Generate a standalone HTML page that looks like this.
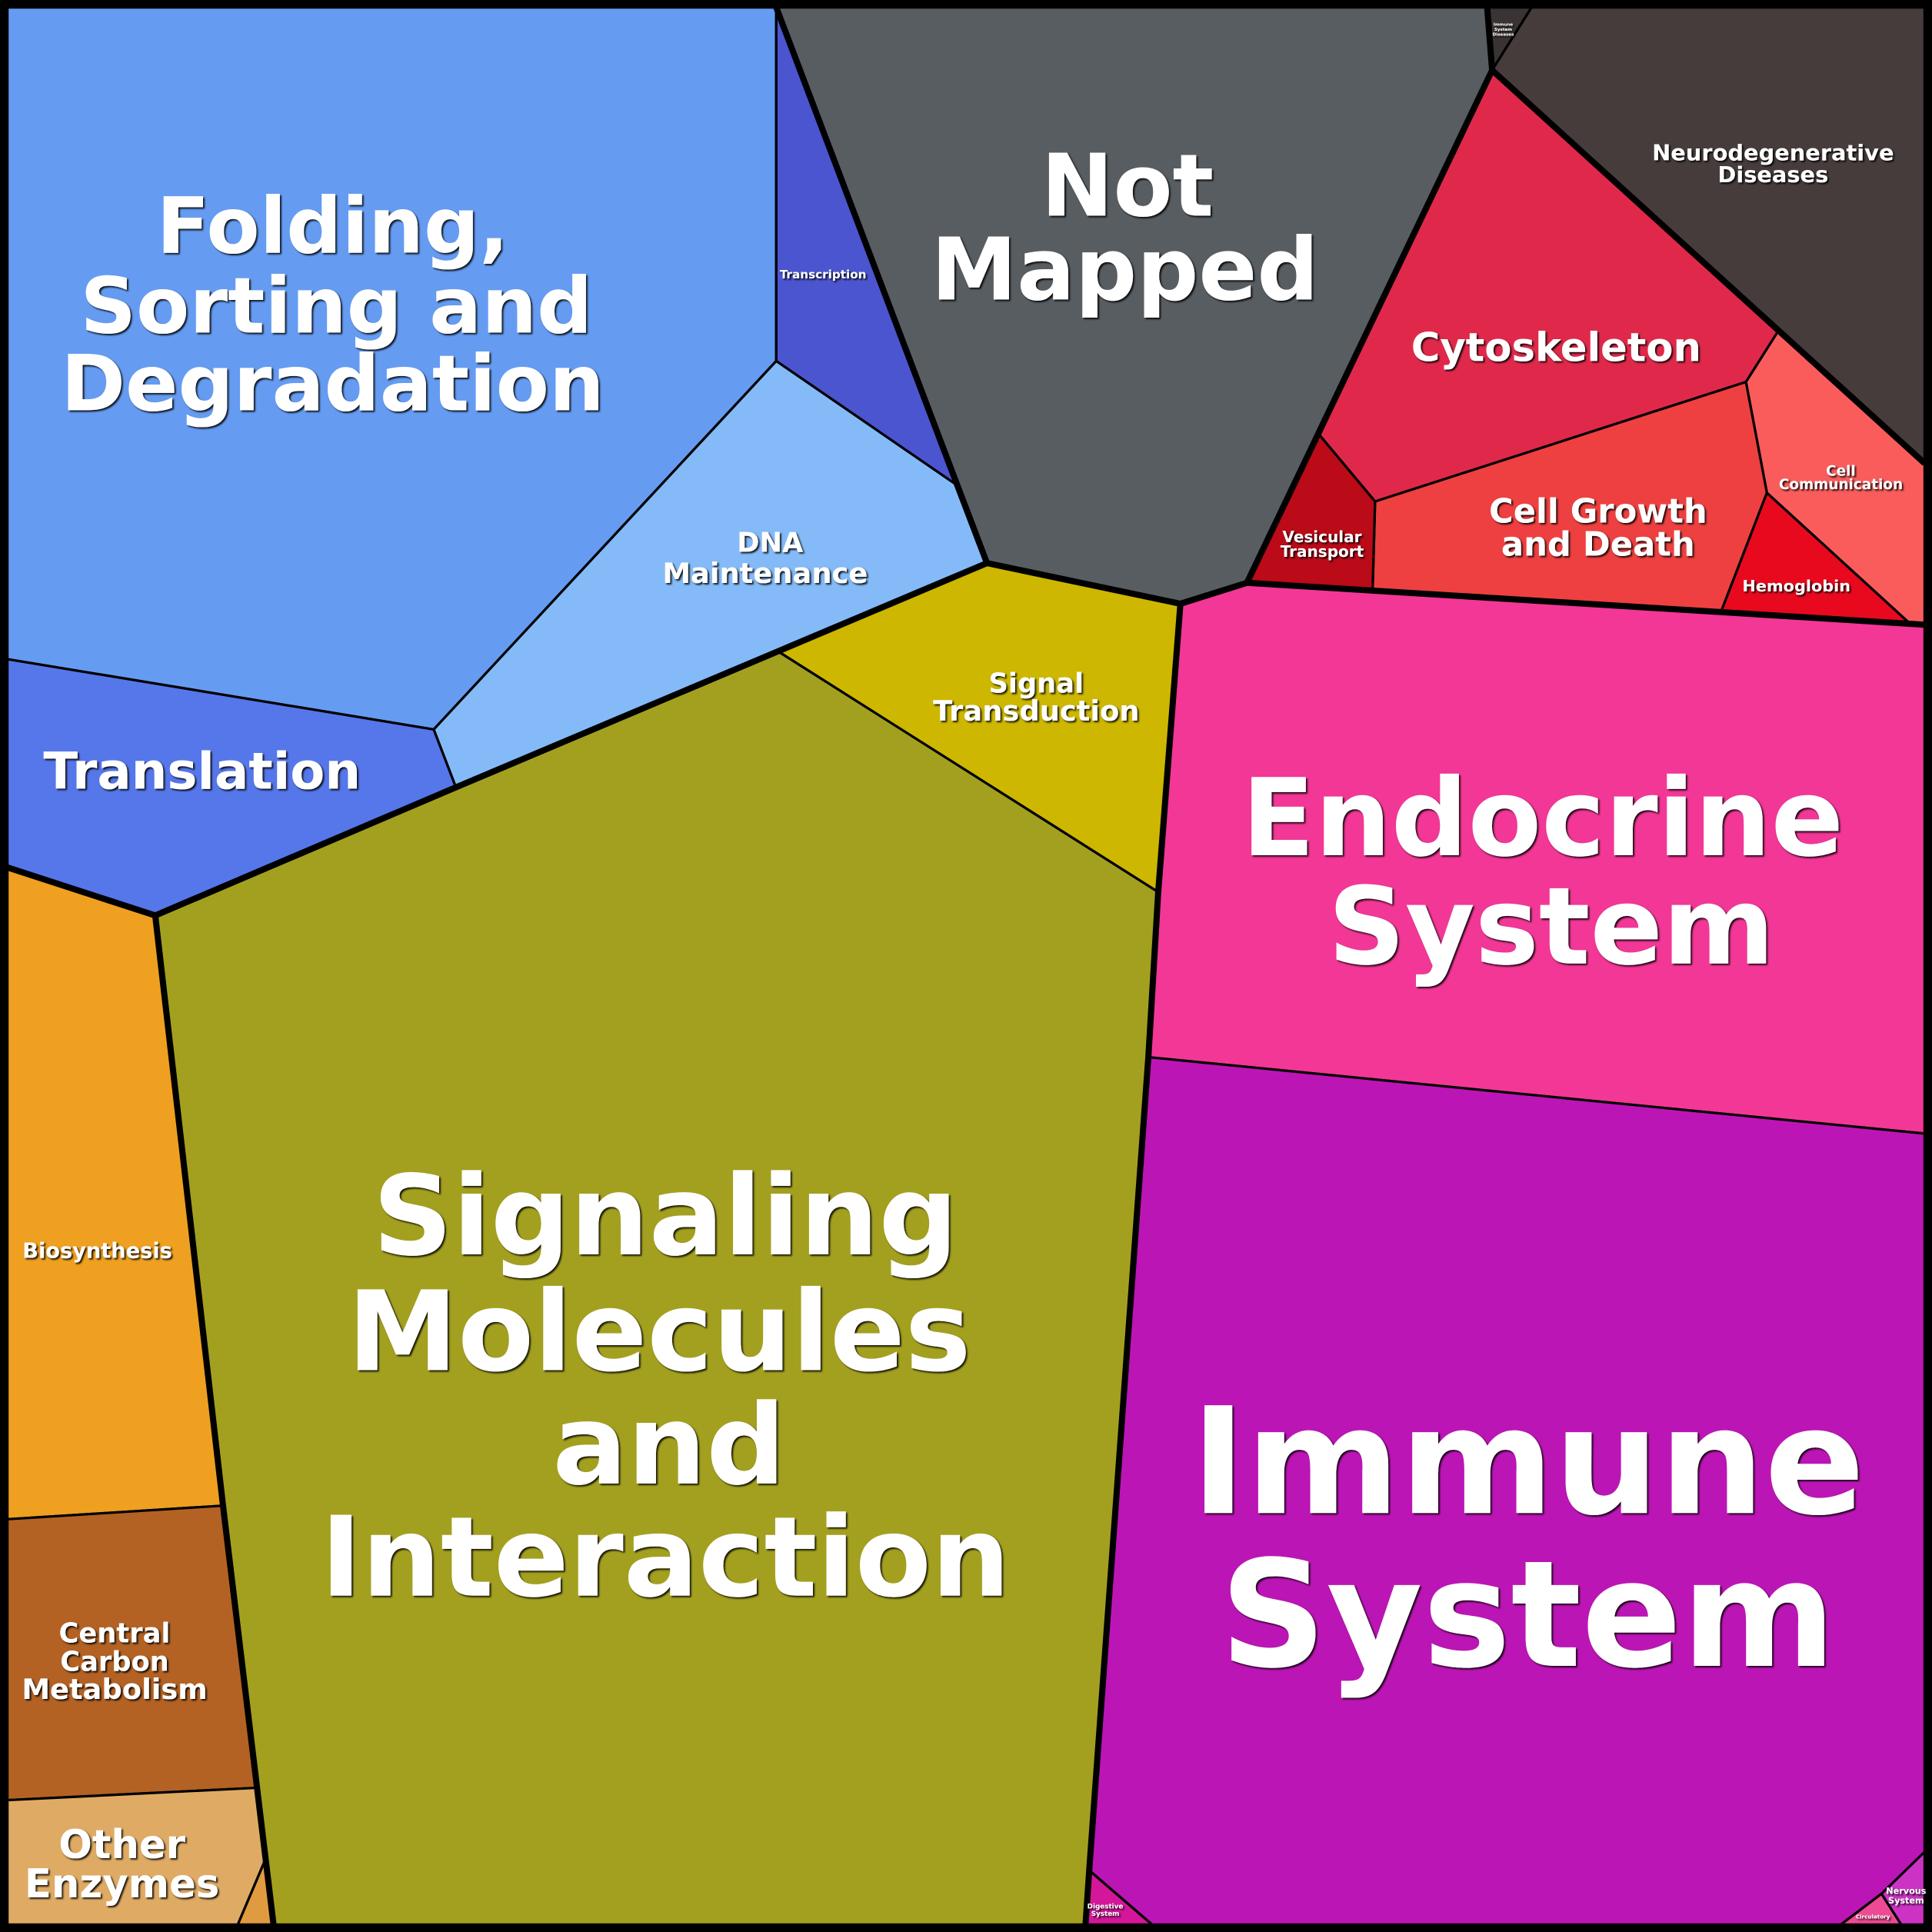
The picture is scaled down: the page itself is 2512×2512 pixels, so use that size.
<!DOCTYPE html>
<html><head><meta charset="utf-8"><style>
html,body{margin:0;padding:0;background:#000;}
svg{display:block;}
text{font-family:"DejaVu Sans","Liberation Sans",sans-serif;font-weight:bold;fill:#fff;text-anchor:middle;}
</style></head><body>
<svg width="2512" height="2512" viewBox="0 0 1568 1568" xmlns="http://www.w3.org/2000/svg">
<defs><filter id="sh" x="-10%" y="-10%" width="130%" height="140%"><feDropShadow dx="1.2" dy="1.2" stdDeviation="0.6" flood-color="#000" flood-opacity="0.9"/></filter></defs>
<rect width="1568" height="1568" fill="#000"/>
<g stroke="#000" stroke-width="2" stroke-linejoin="round">
<polygon fill="#659cf2" points="6,6 630,6 630,293 352,592 6,535"/>
<polygon fill="#4b55cf" points="630,6 777,394 630,293"/>
<polygon fill="#585d62" points="630,6 1207,6 1211,57 1070,352 1012,473 958,490 801,457 777,394"/>
<polygon fill="#3a3333" points="1207,6 1243,6 1211,57"/>
<polygon fill="#463c3c" points="1243,6 1562,6 1562,376 1443,269 1211,57"/>
<polygon fill="#e0294a" points="1211,57 1443,269 1417,310 1116,407 1070,352"/>
<polygon fill="#fa5c5c" points="1443,269 1562,376 1562,507 1550,506 1434,400 1417,310"/>
<polygon fill="#ee4040" points="1116,407 1417,310 1434,400 1397,496 1114,479"/>
<polygon fill="#e8091e" points="1434,400 1550,506 1397,496"/>
<polygon fill="#bb0a18" points="1070,352 1116,407 1114,479 1012,473"/>
<polygon fill="#84baf7" points="630,293 777,394 801,457 632,529 370,639 352,592"/>
<polygon fill="#5577ea" points="6,535 352,592 370,639 126,743 6,704"/>
<polygon fill="#cdb700" points="801,457 958,490 940,724 632,529"/>
<polygon fill="#a3a020" points="632,529 940,724 932,858 884,1518 881,1562 222,1562 181,1222 126,743 370,639"/>
<polygon fill="#f23796" points="958,490 1012,473 1562,507 1562,920 932,858 940,724"/>
<polygon fill="#bc15b5" points="932,858 1562,920 1562,1503 1527,1537 1494,1562 935,1562 884,1518"/>
<polygon fill="#d4179a" points="884,1518 935,1562 881,1562"/>
<polygon fill="#cc33c4" points="1562,1503 1562,1562 1543,1562 1527,1537"/>
<polygon fill="#ee4a94" points="1527,1537 1543,1562 1494,1562"/>
<polygon fill="#efa020" points="6,704 126,743 181,1222 6,1233"/>
<polygon fill="#b36224" points="6,1233 181,1222 208,1451 6,1461"/>
<polygon fill="#dfab64" points="6,1461 208,1451 215,1510 193,1562 6,1562"/>
<polygon fill="#e09a40" points="215,1510 222,1562 193,1562"/>
</g>
<g stroke="#000" stroke-width="5" fill="none" stroke-linejoin="round">
<polyline points="630,6 777,394 801,457"/>
<polyline points="801,457 370,639 126,743 6,704"/>
<polyline points="126,743 181,1222 222,1562"/>
<polyline points="801,457 958,490 940,724 932,858 884,1518 881,1562"/>
<polyline points="958,490 1012,473 1562,507"/>
<polyline points="1012,473 1211,57 1207,6"/>
<polyline points="1211,57 1562,376"/>
<rect x="3" y="3" width="1562" height="1562" stroke-width="7"/>
</g>
<g filter="url(#sh)">
<text x="915" y="175" font-size="70">Not</text>
<text x="913" y="243" font-size="70">Mapped</text>
<text x="270" y="205" font-size="63">Folding,</text>
<text x="273" y="270" font-size="63">Sorting and</text>
<text x="270" y="333" font-size="63">Degradation</text>
<text x="540" y="1018" font-size="90">Signaling</text>
<text x="535" y="1112" font-size="90">Molecules</text>
<text x="543" y="1204" font-size="90">and</text>
<text x="540" y="1295" font-size="90">Interaction</text>
<text x="1240" y="1228" font-size="120">Immune</text>
<text x="1240" y="1352" font-size="120">System</text>
<text x="1252" y="694" font-size="87">Endocrine</text>
<text x="1259" y="782" font-size="87">System</text>
<text x="1263" y="293" font-size="32">Cytoskeleton</text>
<text x="1297" y="424" font-size="27">Cell Growth</text>
<text x="1297" y="451" font-size="27">and Death</text>
<text x="164" y="640" font-size="41">Translation</text>
<text x="1439" y="130" font-size="18">Neurodegenerative</text>
<text x="1439" y="148" font-size="18">Diseases</text>
<text x="625" y="448" font-size="22">DNA</text>
<text x="621" y="473" font-size="23">Maintenance</text>
<text x="841" y="562" font-size="22">Signal</text>
<text x="841" y="585" font-size="23">Transduction</text>
<text x="79" y="1021" font-size="17">Biosynthesis</text>
<text x="93" y="1333" font-size="22">Central</text>
<text x="93" y="1356" font-size="22">Carbon</text>
<text x="93" y="1379" font-size="23">Metabolism</text>
<text x="99" y="1508" font-size="32">Other</text>
<text x="99" y="1540" font-size="32">Enzymes</text>
<text x="1073" y="440" font-size="12.5">Vesicular</text>
<text x="1073" y="452" font-size="12.5">Transport</text>
<text x="1494" y="386" font-size="11.5">Cell</text>
<text x="1494" y="397" font-size="11.5">Communication</text>
<text x="1458" y="480" font-size="13">Hemoglobin</text>
<text x="668" y="226" font-size="9.5">Transcription</text>
<text x="1547" y="1537" font-size="7">Nervous</text>
<text x="1547" y="1545" font-size="7">System</text>
<text x="1520" y="1557" font-size="4.5">Circulatory</text>
<text x="897" y="1549" font-size="5.5">Digestive</text>
<text x="897" y="1555" font-size="5.5">System</text>
<text x="1220" y="21" font-size="3.5">Immune</text>
<text x="1220" y="25" font-size="3.5">System</text>
<text x="1220" y="29" font-size="3.5">Diseases</text>
</g>
</svg>
</body></html>
